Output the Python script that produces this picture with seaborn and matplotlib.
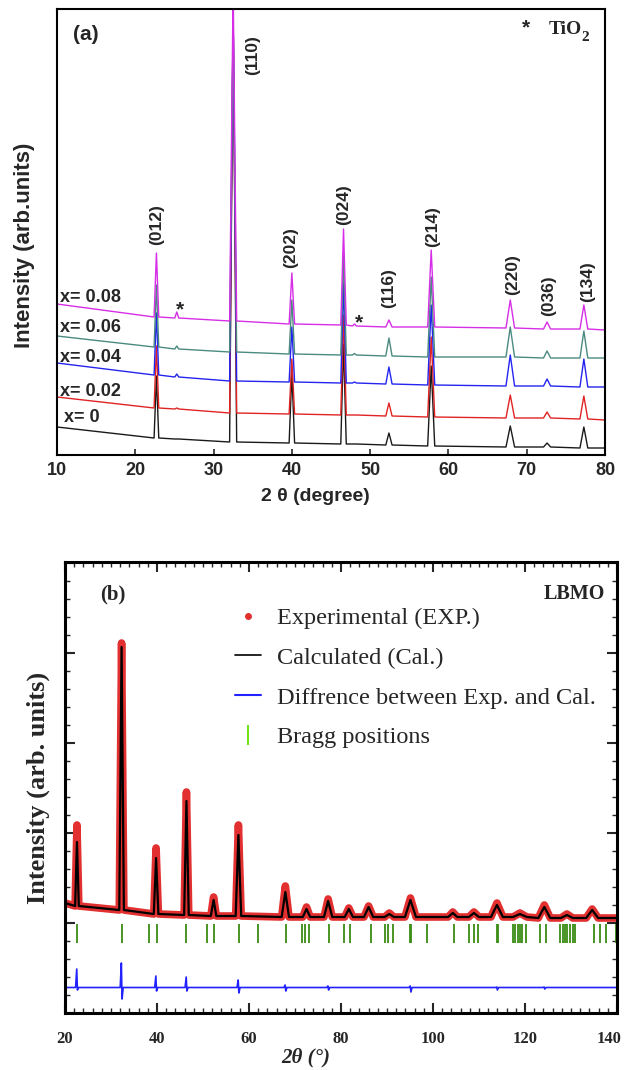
import matplotlib
matplotlib.use("Agg")
import matplotlib.pyplot as plt
import seaborn as sns
from matplotlib.lines import Line2D
from matplotlib.ticker import MultipleLocator
from matplotlib.transforms import ScaledTranslation

# ---------------- Panel (a) data (heights in arbitrary units) ----------------
a_peak_pos = [22.7, 25.3, 32.5, 40.0, 46.6, 48.0, 52.4, 57.8, 67.9, 72.6, 77.3]
a_peak_hw = [0.3, 0.25, 0.45, 0.35, 0.35, 0.25, 0.4, 0.45, 0.55, 0.45, 0.5]
a_x_start, a_x_end = 10, 80
a_series = ["x= 0", "x= 0.02", "x= 0.04", "x= 0.06", "x= 0.08"]
# baseline at 10, at every peak position, at 80
a_base_000 = [28, 17, 16, 13, 12, 11, 11, 10, 9, 8, 8, 7, 7]
a_base_002 = [58, 47, 46, 42, 41, 40, 40, 39, 38, 37, 37, 36, 35]
a_base_004 = [92, 80, 78, 74, 73, 72, 72, 71, 70, 69, 69, 68, 68]
a_base_006 = [119, 108, 106, 103, 101, 100, 100, 99, 98, 98, 97, 97, 97]
a_base_008 = [151, 138, 137, 134, 131, 130, 129, 128, 128, 127, 126, 126, 125]
# peak tops
a_top_000 = [79, 16, 440, 82, 111, 11, 22, 89, 29, 12, 28]
a_top_002 = [109, 47, 440, 96, 140, 40, 52, 118, 60, 43, 59]
a_top_004 = [142, 81, 440, 128, 172, 73, 88, 150, 100, 76, 96]
a_top_006 = [170, 109, 440, 155, 200, 101.5, 117, 178, 128, 104, 124]
a_top_008 = [202, 143, 470, 182, 226, 131, 135, 205, 155, 133, 150]
a_label_y = [37, 64, 97, 127, 158]

a_hkl = ["(012)", "(110)", "(202)", "(024)", "(116)", "(214)", "(220)", "(036)", "(134)"]
a_hkl_x = [22.75, 35.0, 39.9, 46.6, 52.4, 58.0, 68.2, 72.8, 77.8]
a_hkl_y = [210, 380, 187, 230, 147, 208, 160, 139, 153]
a_star_x = [25.7, 48.6]
a_star_y = [140, 126.5]
a_xticks = [10, 20, 30, 40, 50, 60, 70, 80]

# ---------------- Panel (b) data ----------------
b_x_start, b_x_end = 20, 140
b_peak_pos = [22.6, 32.3, 39.8, 46.4, 52.3, 57.7, 67.9, 72.5, 77.2, 81.7,
              86.0, 90.5, 95.1, 104.3, 108.9, 113.9, 118.9, 124.2, 129.1, 134.6]
b_peak_hw = [0.4, 0.5, 0.5, 0.5, 0.6, 0.6, 0.8, 0.8, 0.9, 0.9,
             1.0, 1.0, 1.2, 1.0, 1.1, 1.3, 1.5, 1.3, 1.3, 1.3]
b_base = [110, 107, 103, 99, 98, 97, 97, 96, 96, 96, 96,
          96, 96, 96, 96, 96, 96, 96, 95, 95, 95, 95]
b_calc_top = [171, 366, 155, 212, 113, 178, 121, 104, 112, 104,
              106, 99, 113, 100, 100, 108, 99, 106, 98, 103]
b_exp_top = [188, 370, 165, 221, 116, 188, 127, 106, 114, 105,
             107, 100, 115, 101, 101, 110, 100, 108, 99, 104]
b_diff_base = 25.5
b_diff_pos = [22.6, 32.3, 39.8, 46.4, 57.7, 67.9, 77.2, 95.1, 113.9, 124.2]
b_diff_up = [44, 50, 37, 36, 33, 28, 27, 27, 26, 26]
b_diff_down = [23, 14, 22, 22, 20, 22, 23, 21, 23, 24]
b_bragg = [22.6, 32.3, 38.3, 40.0, 46.4, 50.8, 52.4, 57.9, 61.9, 68.0, 71.5, 72.2,
           73.1, 77.4, 80.7, 81.9, 86.6, 89.5, 90.3, 91.2, 95.1, 95.3, 98.8, 104.5,
           107.8, 108.9, 109.7, 113.9, 114.1, 117.4, 117.9, 118.4, 118.9, 119.4,
           120.3, 123.3, 124.6, 127.7, 128.2, 128.6, 129.1, 129.7, 130.4, 130.9,
           135.1, 136.4, 137.5, 139.8]
b_bragg_lo, b_bragg_hi = 70, 89
b_xticks = [20, 40, 60, 80, 100, 120, 140]
b_legend = ["Experimental (EXP.)", "Calculated (Cal.)",
            "Diffrence between Exp. and Cal.", "Bragg positions"]


def build(x0, x1, base, pos, tops, hw):
    xs, ys = [x0], [base[0]]
    for i, p in enumerate(pos):
        b = base[i + 1]
        xs += [p - hw[i], p, p + hw[i]]
        ys += [b, tops[i], b]
    xs.append(x1)
    ys.append(base[-1])
    return xs, ys


sns.set_style("white")
plt.rcParams['font.family'] = ['Liberation Sans', 'DejaVu Sans']

W, H = 627, 1070
fig = plt.figure(figsize=(W / 100, H / 100), dpi=100)
axa = fig.add_axes([57 / W, 1 - 455 / H, 548 / W, 446 / H])
axb = fig.add_axes([65 / W, 1 - 1013 / H, 552 / W, 451 / H])

# ---------------- Panel (a) ----------------
a_colors = ["#1a1a1a", "#e02424", "#2424f0", "#4b8a80", "#d62ee6"]
a_bases = [a_base_000, a_base_002, a_base_004, a_base_006, a_base_008]
a_tops = [a_top_000, a_top_002, a_top_004, a_top_006, a_top_008]
for col, base, tops in zip(a_colors, a_bases, a_tops):
    xs, ys = build(a_x_start, a_x_end, base, a_peak_pos, tops, a_peak_hw)
    sns.lineplot(x=xs, y=ys, ax=axa, color=col, linewidth=1.0,
                 sort=False, estimator=None)

axa.set_xlim(10, 80)
axa.set_ylim(0, 446)
axa.set_yticks([])
axa.set_xticks(a_xticks, [str(t) for t in a_xticks], fontweight='bold', fontsize=13)
axa.tick_params(axis='x', direction='in', length=4, width=1.2, pad=5, bottom=True)
for s in axa.spines.values():
    s.set_visible(True)
    s.set_linewidth(1.5)
    s.set_color('black')

axa.set_xlabel("2 θ (degree)", fontweight='bold', fontsize=14, va='center')
axa.xaxis.set_label_coords(0.4717, -0.094)
axa.set_ylabel("Intensity (arb.units)", fontweight='bold', fontsize=16, va='center')
axa.yaxis.set_label_coords(-0.0602, 0.471)

for lab, y in zip(a_series, a_label_y):
    axa.text(10.9 if lab == "x= 0" else 10.4, y, lab, fontweight='bold',
             fontsize=13, va='center', ha='left')
for lab, x, y in zip(a_hkl, a_hkl_x, a_hkl_y):
    axa.text(x, y, lab, rotation=90, ha='center', va='bottom',
             fontweight='bold', fontsize=12.5)
for x, y in zip(a_star_x, a_star_y):
    axa.text(x, y, "*", ha='center', va='baseline', fontweight='bold', fontsize=15)

axa.text(12.1, 420, "(a)", fontweight='bold', fontsize=15, va='center', ha='left')
axa.text(69.96, 422, "*", ha='center', va='baseline', fontweight='bold', fontsize=15)
axa.text(72.8, 421, "TiO", ha='left', va='baseline', fontweight='bold',
         fontsize=14, family='Liberation Serif')
axa.text(76.95, 414, "2", ha='left', va='baseline', fontweight='bold',
         fontsize=11, family='Liberation Serif')

# ---------------- Panel (b) ----------------
serif = 'Liberation Serif'
ex, ey = build(b_x_start, b_x_end, b_base, b_peak_pos, b_exp_top, b_peak_hw)
cx, cy = build(b_x_start, b_x_end, b_base, b_peak_pos, b_calc_top, b_peak_hw)
sns.lineplot(x=ex, y=ey, ax=axb, color="#e23030", linewidth=5.5, sort=False,
             estimator=None, solid_joinstyle='round', solid_capstyle='round')
sns.lineplot(x=cx, y=cy, ax=axb, color="black", linewidth=1.6, sort=False,
             estimator=None)

dx, dy = [b_x_start], [b_diff_base]
for p, u, d in zip(b_diff_pos, b_diff_up, b_diff_down):
    dx += [p - 0.3, p - 0.05, p + 0.1, p + 0.35]
    dy += [b_diff_base, u, d, b_diff_base]
dx.append(b_x_end)
dy.append(b_diff_base)
sns.lineplot(x=dx, y=dy, ax=axb, color="#2222ff", linewidth=1.2, sort=False,
             estimator=None)

axb.vlines(b_bragg, b_bragg_lo, b_bragg_hi, color="#3a8c14", linewidth=1.3)

axb.set_xlim(20, 140)
axb.set_ylim(0, 451)
axb.set_xticks(b_xticks, [str(t) for t in b_xticks], fontweight='bold',
               fontsize=12, fontfamily=serif)
axb.xaxis.set_minor_locator(MultipleLocator(2))
axb.yaxis.set_major_locator(MultipleLocator(90))
axb.yaxis.set_minor_locator(MultipleLocator(18))
axb.tick_params(which='both', direction='in', top=True, right=True, left=True,
                bottom=True, labelleft=False)
axb.tick_params(which='major', length=7, width=1.5, pad=13)
axb.tick_params(which='minor', length=3.5, width=1.0)
for s in axb.spines.values():
    s.set_visible(True)
    s.set_linewidth(2.2)
    s.set_color('black')
last = axb.get_xticklabels()[-1]
last.set_transform(last.get_transform() + ScaledTranslation(-0.08, 0, fig.dpi_scale_trans))

axb.set_xlabel("2θ (°)", fontfamily=serif, fontweight='bold', fontstyle='italic',
               fontsize=15, va='center')
axb.xaxis.set_label_coords(0.436, -0.0976)
axb.set_ylabel("Intensity (arb. units)", fontfamily=serif, fontweight='bold',
               fontsize=19, va='center')
axb.yaxis.set_label_coords(-0.0489, 0.5)

axb.text(0.0634, 0.929, "(b)", transform=axb.transAxes, fontfamily=serif,
         fontweight='bold', fontsize=15, va='center', ha='left')
axb.text(0.978, 0.928, "LBMO", transform=axb.transAxes, fontfamily=serif,
         fontweight='bold', fontsize=14.5, va='center', ha='right')

handles = [
    Line2D([], [], ls='none', marker='o', ms=4, color="#e23030"),
    Line2D([], [], color='black', lw=1.2),
    Line2D([], [], color='#2222ff', lw=1.5),
    Line2D([], [], ls='none', marker='|', ms=15, mew=1.3, color='#5fe000'),
]
axb.legend(handles, b_legend, loc='upper left', bbox_to_anchor=(0.308, 0.900),
           frameon=False, prop={'family': serif, 'size': 17.5}, borderpad=0,
           borderaxespad=0, handlelength=1.07, handletextpad=0.66,
           labelspacing=0.73)

fig.savefig("out.png", dpi=100, facecolor='white')
